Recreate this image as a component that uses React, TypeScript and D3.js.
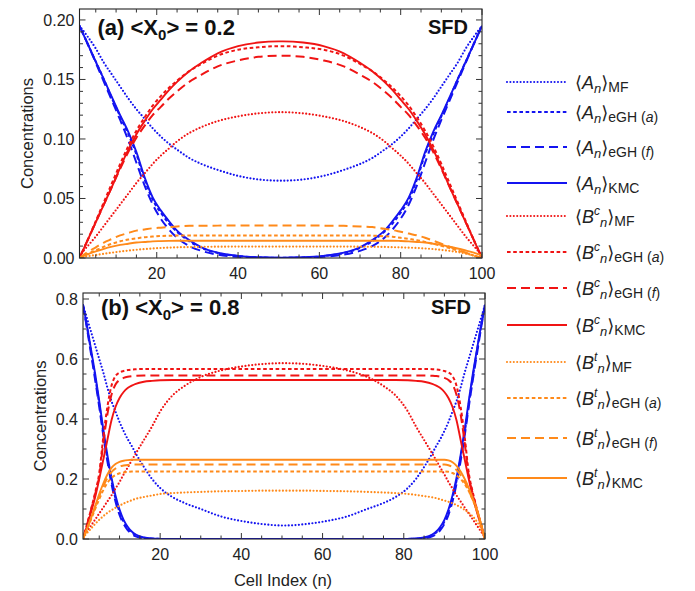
import React from 'react';
import * as d3 from 'd3';

// ---------------- DATA ----------------
// Panel (a) <X0> = 0.2 : cell indices sampled
const gridA = [1, 3, 5, 7, 9, 11, 13, 15, 17, 19, 21, 23, 25, 28, 31, 35, 40, 45, 50, 51, 56, 61, 66, 70, 73, 76, 78, 80, 82, 84, 86, 88, 90, 92, 94, 96, 98, 100];

const aA_MF = [0.195, 0.186, 0.176, 0.164, 0.154, 0.144, 0.134, 0.125, 0.117, 0.109, 0.102, 0.096, 0.091, 0.084, 0.079, 0.074, 0.069, 0.066, 0.065, 0.065, 0.066, 0.069, 0.074, 0.079, 0.084, 0.091, 0.096, 0.102, 0.109, 0.117, 0.125, 0.134, 0.144, 0.154, 0.164, 0.176, 0.186, 0.195];
const aA_eGHa = [0.195, 0.180, 0.165, 0.150, 0.134, 0.119, 0.104, 0.087, 0.066, 0.049, 0.038, 0.029, 0.022, 0.014, 0.0085, 0.0042, 0.0016, 0.0005, 0.0002, 0.0002, 0.0005, 0.0016, 0.0042, 0.0085, 0.014, 0.022, 0.029, 0.038, 0.049, 0.066, 0.087, 0.104, 0.119, 0.134, 0.150, 0.165, 0.180, 0.195];
const aA_eGHf = [0.195, 0.180, 0.164, 0.148, 0.132, 0.116, 0.099, 0.080, 0.061, 0.045, 0.033, 0.024, 0.017, 0.010, 0.006, 0.0028, 0.001, 0.0003, 0.0001, 0.0001, 0.0003, 0.001, 0.0028, 0.006, 0.010, 0.017, 0.024, 0.033, 0.045, 0.061, 0.080, 0.099, 0.116, 0.132, 0.148, 0.164, 0.180, 0.195];
const aA_KMC = [0.195, 0.180, 0.165, 0.150, 0.135, 0.120, 0.106, 0.089, 0.068, 0.051, 0.040, 0.031, 0.023, 0.015, 0.009, 0.0045, 0.0018, 0.0006, 0.0002, 0.0002, 0.0006, 0.0018, 0.0045, 0.009, 0.015, 0.023, 0.031, 0.040, 0.051, 0.068, 0.089, 0.106, 0.120, 0.135, 0.150, 0.165, 0.180, 0.195];

const aBc_MF = [0.002, 0.010, 0.018, 0.027, 0.036, 0.045, 0.054, 0.063, 0.071, 0.079, 0.086, 0.092, 0.098, 0.105, 0.110, 0.115, 0.119, 0.1215, 0.1225, 0.1225, 0.1215, 0.119, 0.115, 0.110, 0.105, 0.098, 0.092, 0.086, 0.079, 0.071, 0.063, 0.054, 0.045, 0.036, 0.027, 0.018, 0.010, 0.002];
const aBc_eGHa = [0, 0.015, 0.031, 0.047, 0.063, 0.079, 0.094, 0.107, 0.118, 0.128, 0.136, 0.143, 0.149, 0.157, 0.163, 0.170, 0.175, 0.177, 0.178, 0.178, 0.177, 0.175, 0.170, 0.163, 0.157, 0.149, 0.143, 0.136, 0.128, 0.118, 0.107, 0.094, 0.079, 0.063, 0.047, 0.031, 0.015, 0];
const aBc_eGHf = [0, 0.015, 0.030, 0.045, 0.060, 0.075, 0.089, 0.101, 0.111, 0.120, 0.127, 0.134, 0.140, 0.148, 0.154, 0.161, 0.166, 0.169, 0.170, 0.170, 0.169, 0.166, 0.161, 0.154, 0.148, 0.140, 0.134, 0.127, 0.120, 0.111, 0.101, 0.089, 0.075, 0.060, 0.045, 0.030, 0.015, 0];
const aBc_KMC = [0, 0.015, 0.030, 0.045, 0.060, 0.076, 0.091, 0.104, 0.115, 0.125, 0.133, 0.141, 0.148, 0.157, 0.164, 0.172, 0.178, 0.181, 0.182, 0.182, 0.181, 0.178, 0.172, 0.164, 0.157, 0.148, 0.141, 0.133, 0.125, 0.115, 0.104, 0.091, 0.076, 0.060, 0.045, 0.030, 0.015, 0];

const aBt_MF = [0.0003, 0.0015, 0.0025, 0.0035, 0.0045, 0.0054, 0.0062, 0.0069, 0.0075, 0.008, 0.0084, 0.0087, 0.009, 0.0092, 0.0094, 0.0095, 0.0096, 0.0096, 0.0096, 0.0096, 0.0096, 0.0096, 0.0096, 0.0095, 0.0094, 0.0093, 0.0091, 0.0089, 0.0087, 0.0084, 0.008, 0.0075, 0.0068, 0.006, 0.005, 0.0037, 0.002, 0];
const aBt_eGHa = [0, 0.0035, 0.0065, 0.0095, 0.012, 0.014, 0.0155, 0.0165, 0.0175, 0.018, 0.0185, 0.0187, 0.0189, 0.019, 0.019, 0.019, 0.019, 0.019, 0.019, 0.019, 0.019, 0.019, 0.019, 0.019, 0.0188, 0.0183, 0.0178, 0.017, 0.016, 0.015, 0.0135, 0.012, 0.0102, 0.0083, 0.0063, 0.0042, 0.002, 0];
const aBt_eGHf = [0, 0.005, 0.009, 0.013, 0.016, 0.019, 0.021, 0.023, 0.024, 0.025, 0.0255, 0.026, 0.0265, 0.027, 0.027, 0.0272, 0.0273, 0.0274, 0.0274, 0.0274, 0.0273, 0.0272, 0.027, 0.0265, 0.026, 0.0245, 0.0235, 0.022, 0.0205, 0.019, 0.017, 0.0145, 0.012, 0.0095, 0.007, 0.0045, 0.002, 0];
const aBt_KMC = [0, 0.003, 0.0055, 0.0077, 0.0095, 0.011, 0.012, 0.013, 0.0135, 0.014, 0.0142, 0.0144, 0.0145, 0.0145, 0.0145, 0.0145, 0.0145, 0.0145, 0.0145, 0.0145, 0.0145, 0.0145, 0.0145, 0.0145, 0.0145, 0.0145, 0.0145, 0.0143, 0.014, 0.0135, 0.013, 0.012, 0.011, 0.0095, 0.008, 0.0063, 0.0045, 0.0024, 0];

// Panel (b) <X0> = 0.8
const gridB = [1, 2, 3, 4, 5, 6, 7, 8, 9, 10, 11, 12, 13, 14, 16, 18, 20, 23, 26, 30, 35, 40, 45, 50, 51, 56, 61, 66, 71, 75, 78, 81, 83, 85, 87, 88, 89, 90, 91, 92, 93, 94, 95, 96, 97, 98, 99, 100];

const bA_MF = [0.78, 0.735, 0.69, 0.645, 0.60, 0.555, 0.505, 0.46, 0.425, 0.39, 0.36, 0.333, 0.31, 0.285, 0.24, 0.20, 0.17, 0.14, 0.12, 0.10, 0.075, 0.06, 0.05, 0.045, 0.045, 0.05, 0.06, 0.075, 0.10, 0.12, 0.14, 0.17, 0.20, 0.24, 0.285, 0.31, 0.333, 0.36, 0.39, 0.425, 0.46, 0.505, 0.555, 0.60, 0.645, 0.69, 0.735, 0.78];
const bA_eGHa = [0.78, 0.705, 0.625, 0.54, 0.45, 0.355, 0.27, 0.195, 0.135, 0.09, 0.058, 0.036, 0.022, 0.013, 0.004, 0.001, 0.0003, 0, 0, 0, 0, 0, 0, 0, 0, 0, 0, 0, 0, 0, 0, 0.0003, 0.001, 0.004, 0.013, 0.022, 0.036, 0.058, 0.09, 0.135, 0.195, 0.27, 0.355, 0.45, 0.54, 0.625, 0.705, 0.78];
const bA_eGHf = [0.78, 0.70, 0.615, 0.53, 0.44, 0.345, 0.26, 0.185, 0.125, 0.08, 0.05, 0.03, 0.017, 0.009, 0.0025, 0.0006, 0.0001, 0, 0, 0, 0, 0, 0, 0, 0, 0, 0, 0, 0, 0, 0, 0.0001, 0.0006, 0.0025, 0.009, 0.017, 0.03, 0.05, 0.08, 0.125, 0.185, 0.26, 0.345, 0.44, 0.53, 0.615, 0.70, 0.78];
const bA_KMC = [0.78, 0.71, 0.63, 0.55, 0.46, 0.365, 0.28, 0.205, 0.145, 0.098, 0.064, 0.041, 0.025, 0.015, 0.005, 0.0015, 0.0005, 0, 0, 0, 0, 0, 0, 0, 0, 0, 0, 0, 0, 0, 0, 0.0005, 0.0015, 0.005, 0.015, 0.025, 0.041, 0.064, 0.098, 0.145, 0.205, 0.28, 0.365, 0.46, 0.55, 0.63, 0.71, 0.78];

const bBc_MF = [0.005, 0.025, 0.045, 0.065, 0.085, 0.105, 0.125, 0.145, 0.168, 0.19, 0.215, 0.238, 0.262, 0.285, 0.33, 0.375, 0.425, 0.478, 0.51, 0.54, 0.562, 0.575, 0.583, 0.586, 0.586, 0.583, 0.575, 0.562, 0.54, 0.51, 0.478, 0.425, 0.375, 0.33, 0.285, 0.262, 0.238, 0.215, 0.19, 0.168, 0.145, 0.125, 0.105, 0.085, 0.065, 0.045, 0.025, 0.005];
const bBc_eGHa = [0, 0.05, 0.10, 0.155, 0.22, 0.34, 0.44, 0.51, 0.543, 0.555, 0.56, 0.563, 0.565, 0.566, 0.567, 0.567, 0.567, 0.567, 0.567, 0.567, 0.567, 0.567, 0.567, 0.567, 0.567, 0.567, 0.567, 0.567, 0.567, 0.567, 0.567, 0.567, 0.567, 0.567, 0.566, 0.565, 0.563, 0.56, 0.555, 0.543, 0.51, 0.44, 0.34, 0.22, 0.155, 0.10, 0.05, 0];
const bBc_eGHf = [0, 0.048, 0.098, 0.15, 0.21, 0.32, 0.415, 0.48, 0.515, 0.53, 0.537, 0.541, 0.543, 0.544, 0.545, 0.545, 0.545, 0.545, 0.545, 0.545, 0.545, 0.545, 0.545, 0.545, 0.545, 0.545, 0.545, 0.545, 0.545, 0.545, 0.545, 0.545, 0.545, 0.545, 0.544, 0.543, 0.541, 0.537, 0.53, 0.515, 0.48, 0.415, 0.32, 0.21, 0.15, 0.098, 0.048, 0];
const bBc_KMC = [0, 0.045, 0.09, 0.14, 0.20, 0.265, 0.33, 0.395, 0.44, 0.47, 0.49, 0.503, 0.511, 0.517, 0.524, 0.527, 0.529, 0.53, 0.53, 0.53, 0.53, 0.53, 0.53, 0.53, 0.53, 0.53, 0.53, 0.53, 0.53, 0.53, 0.53, 0.529, 0.527, 0.524, 0.517, 0.511, 0.503, 0.49, 0.47, 0.44, 0.395, 0.33, 0.265, 0.20, 0.14, 0.09, 0.045, 0];

const bBt_MF = [0.005, 0.02, 0.035, 0.05, 0.064, 0.076, 0.087, 0.096, 0.104, 0.111, 0.118, 0.124, 0.129, 0.134, 0.14, 0.145, 0.15, 0.153, 0.155, 0.157, 0.159, 0.16, 0.161, 0.161, 0.161, 0.161, 0.16, 0.159, 0.157, 0.155, 0.153, 0.15, 0.147, 0.143, 0.139, 0.136, 0.132, 0.128, 0.124, 0.119, 0.113, 0.106, 0.097, 0.087, 0.075, 0.058, 0.035, 0];
const bBt_eGHa = [0, 0.033, 0.066, 0.10, 0.133, 0.163, 0.187, 0.203, 0.213, 0.219, 0.222, 0.224, 0.225, 0.225, 0.225, 0.225, 0.225, 0.225, 0.225, 0.225, 0.225, 0.225, 0.225, 0.225, 0.225, 0.225, 0.225, 0.225, 0.225, 0.225, 0.225, 0.225, 0.225, 0.225, 0.225, 0.225, 0.225, 0.225, 0.224, 0.22, 0.212, 0.20, 0.183, 0.16, 0.13, 0.095, 0.05, 0];
const bBt_eGHf = [0, 0.035, 0.07, 0.107, 0.143, 0.175, 0.203, 0.223, 0.235, 0.242, 0.245, 0.247, 0.248, 0.248, 0.248, 0.248, 0.248, 0.248, 0.248, 0.248, 0.248, 0.248, 0.248, 0.248, 0.248, 0.248, 0.248, 0.248, 0.248, 0.248, 0.248, 0.248, 0.248, 0.248, 0.248, 0.248, 0.248, 0.248, 0.246, 0.24, 0.23, 0.213, 0.19, 0.162, 0.13, 0.095, 0.05, 0];
const bBt_KMC = [0, 0.035, 0.07, 0.11, 0.15, 0.185, 0.215, 0.237, 0.25, 0.257, 0.261, 0.263, 0.264, 0.264, 0.264, 0.264, 0.264, 0.264, 0.264, 0.264, 0.264, 0.264, 0.264, 0.264, 0.264, 0.264, 0.264, 0.264, 0.264, 0.264, 0.264, 0.264, 0.264, 0.264, 0.264, 0.264, 0.264, 0.264, 0.262, 0.256, 0.244, 0.225, 0.20, 0.17, 0.135, 0.10, 0.05, 0];

// Axis ticks
const xTicks = [20, 40, 60, 80, 100];
const yTicksA = [0, 0.05, 0.1, 0.15, 0.2];
const yTicksB = [0, 0.2, 0.4, 0.6, 0.8];

// Legend entries
const legendVars = ['A', 'A', 'A', 'A', 'B', 'B', 'B', 'B', 'B', 'B', 'B', 'B'];
const legendSups = ['', '', '', '', 'c', 'c', 'c', 'c', 't', 't', 't', 't'];
const legendMethods = ['MF', 'eGH (a)', 'eGH (f)', 'KMC', 'MF', 'eGH (a)', 'eGH (f)', 'KMC', 'MF', 'eGH (a)', 'eGH (f)', 'KMC'];

// ---------------- STYLE ----------------
const BLUE = '#1414f0';
const RED = '#f01414';
const ORANGE = '#ff8a1a';
const FONT = "'Liberation Sans', Arial, Helvetica, 'DejaVu Sans', sans-serif";

const styleOf: Record<string, { dash?: string; cap: 'round' | 'butt'; w: number }> = {
  MF: { dash: '0,3.4', cap: 'round', w: 2.2 },
  'eGH (a)': { dash: '3.6,2.6', cap: 'butt', w: 2 },
  'eGH (f)': { dash: '9,5', cap: 'butt', w: 2 },
  KMC: { cap: 'butt', w: 1.9 },
};

const methods = ['MF', 'eGH (a)', 'eGH (f)', 'KMC'];

type PanelProps = {
  id: string;
  grid: number[];
  series: { color: string; method: string; values: number[] }[];
  left: number; right: number; top: number; bottom: number;
  yMax: number; yTicks: number[]; yMinorStep: number; yFmt: string;
  letter: string; x0: string;
  titleY: number; yTitleX: number;
};

function Panel(p: PanelProps) {
  const x = d3.scaleLinear().domain([1, 100]).range([p.left, p.right]);
  const y = d3.scaleLinear().domain([0, p.yMax]).range([p.bottom, p.top]);
  const fmt = d3.format(p.yFmt);
  const xMinor = d3.range(5, 100, 5).filter((v) => !xTicks.includes(v));
  const yMinor = d3.range(0, p.yMax, p.yMinorStep).filter((v) => !p.yTicks.some((t) => Math.abs(t - v) < 1e-9));
  const MJ = 6, MN = 3.5;
  const line = (vals: number[]) =>
    d3.line<number>().x((_, i) => x(p.grid[i])).y((v) => y(v)).curve(d3.curveMonotoneX)(vals) || '';
  const tickCol = '#333';
  return (
    <g>
      <defs>
        <clipPath id={p.id}>
          <rect x={p.left} y={p.top} width={p.right - p.left} height={p.bottom - p.top} />
        </clipPath>
      </defs>
      <g clipPath={`url(#${p.id})`}>
        {p.series.map((s, i) => {
          const st = styleOf[s.method];
          return (
            <path key={i} d={line(s.values)} fill="none" stroke={s.color} strokeWidth={st.w}
              strokeDasharray={st.dash} strokeLinecap={st.cap} strokeLinejoin="round" />
          );
        })}
      </g>
      <rect x={p.left} y={p.top} width={p.right - p.left} height={p.bottom - p.top} fill="none" stroke="#222" strokeWidth={1.1} />
      {xTicks.map((t) => (
        <g key={'xt' + t}>
          <line x1={x(t)} x2={x(t)} y1={p.bottom} y2={p.bottom - MJ} stroke={tickCol} />
          <line x1={x(t)} x2={x(t)} y1={p.top} y2={p.top + MJ} stroke={tickCol} />
          <text x={x(t)} y={p.bottom + 21} textAnchor="middle" fontSize={16} fontFamily={FONT} fill="#222">{t}</text>
        </g>
      ))}
      {xMinor.map((t) => (
        <g key={'xm' + t}>
          <line x1={x(t)} x2={x(t)} y1={p.bottom} y2={p.bottom - MN} stroke={tickCol} />
          <line x1={x(t)} x2={x(t)} y1={p.top} y2={p.top + MN} stroke={tickCol} />
        </g>
      ))}
      {p.yTicks.map((t) => (
        <g key={'yt' + t}>
          <line x1={p.left} x2={p.left + MJ} y1={y(t)} y2={y(t)} stroke={tickCol} />
          <line x1={p.right} x2={p.right - MJ} y1={y(t)} y2={y(t)} stroke={tickCol} />
          <text x={p.left - 5} y={y(t) + 6} textAnchor="end" fontSize={16} fontFamily={FONT} fill="#222">{fmt(t)}</text>
        </g>
      ))}
      {yMinor.map((t) => (
        <g key={'ym' + t}>
          <line x1={p.left} x2={p.left + MN} y1={y(t)} y2={y(t)} stroke={tickCol} />
          <line x1={p.right} x2={p.right - MN} y1={y(t)} y2={y(t)} stroke={tickCol} />
        </g>
      ))}
      <text transform={`translate(${p.yTitleX},${(p.top + p.bottom) / 2}) rotate(-90)`} textAnchor="middle"
        fontSize={16.5} fontFamily={FONT} fill="#222">Concentrations</text>
      <text x={p.left + 18} y={p.titleY} fontSize={22} fontWeight="bold" fontFamily={FONT} fill="#111">
        ({p.letter}) &lt;X<tspan fontSize={15} dy={5}>0</tspan><tspan dy={-5}>&gt; = {p.x0}</tspan>
      </text>
      <text x={p.right - 14} y={p.titleY - 1} textAnchor="end" fontSize={20} fontWeight="bold" fontFamily={FONT} fill="#111">SFD</text>
    </g>
  );
}

const colorsByVar = [BLUE, RED, ORANGE];

export default function App() {
  const seriesA = [
    [aA_MF, aA_eGHa, aA_eGHf, aA_KMC],
    [aBc_MF, aBc_eGHa, aBc_eGHf, aBc_KMC],
    [aBt_MF, aBt_eGHa, aBt_eGHf, aBt_KMC],
  ].flatMap((grp, gi) => grp.map((values, mi) => ({ color: colorsByVar[gi], method: methods[mi], values })));
  const seriesB = [
    [bA_MF, bA_eGHa, bA_eGHf, bA_KMC],
    [bBc_MF, bBc_eGHa, bBc_eGHf, bBc_KMC],
    [bBt_MF, bBt_eGHa, bBt_eGHf, bBt_KMC],
  ].flatMap((grp, gi) => grp.map((values, mi) => ({ color: colorsByVar[gi], method: methods[mi], values })));

  const legendRowY = [82, 112, 147, 183, 216, 252, 288, 325, 362, 398, 438, 478];

  return (
    <svg width={695} height={591} style={{ position: 'absolute', left: 0, top: 0, background: '#fff' }}>
      <rect x={0} y={0} width={695} height={591} fill="#fff" />
      <Panel id="clipA" grid={gridA} series={seriesA} left={79.5} right={482} top={9} bottom={258}
        yMax={0.2092} yTicks={yTicksA} yMinorStep={0.01} yFmt=".2f" letter="a" x0="0.2" titleY={35} yTitleX={33} />
      <Panel id="clipB" grid={gridB} series={seriesB} left={83} right={485} top={293} bottom={539}
        yMax={0.82} yTicks={yTicksB} yMinorStep={0.05} yFmt=".1f" letter="b" x0="0.8" titleY={315} yTitleX={46} />
      <text x={283} y={586} textAnchor="middle" fontSize={16.5} fontFamily={FONT} fill="#222">Cell Index (n)</text>
      {legendMethods.map((m, i) => {
        const ry = legendRowY[i];
        const color = colorsByVar[Math.floor(i / 4)];
        const st = styleOf[m];
        const sup = legendSups[i];
        const paren = m.match(/^eGH \((.)\)$/);
        return (
          <g key={'lg' + i}>
            <line x1={507} x2={567} y1={ry} y2={ry} stroke={color} strokeWidth={2.1}
              strokeDasharray={st.dash} strokeLinecap={st.cap} />
            <text x={575} y={ry + 7} fontSize={18} fontFamily={FONT} fill="#222">
              <tspan>⟨</tspan>
              <tspan fontStyle="italic">{legendVars[i]}</tspan>
              {sup ? <tspan fontSize={12} fontStyle="italic" dy={-8}>{sup}</tspan> : null}
              <tspan fontSize={13} fontStyle="italic" dy={sup ? 12 : 4}>n</tspan>
              <tspan dy={-4}>⟩</tspan>
              {paren ? (
                <tspan fontSize={14} dy={3}>eGH (<tspan fontStyle="italic">{paren[1]}</tspan>)</tspan>
              ) : (
                <tspan fontSize={14} dy={3}>{m}</tspan>
              )}
            </text>
          </g>
        );
      })}
    </svg>
  );
}
